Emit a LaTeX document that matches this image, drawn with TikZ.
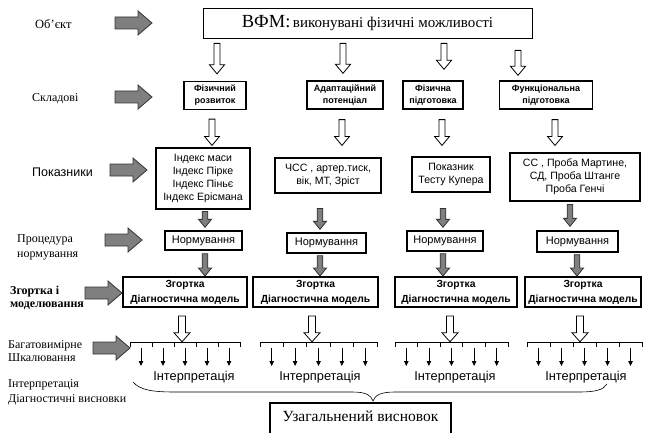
\documentclass[tikz,border=0pt]{standalone}
\usepackage{fontspec}
\setmainfont{Liberation Serif}
\newfontfamily\arial{Liberation Sans}
\usetikzlibrary{arrows.meta,calc}
\definecolor{arrgray}{HTML}{7F7F7F}
\definecolor{arredge}{HTML}{333333}
\newcommand\vconn[9]{%
  \draw[#1] let \p1=(#2.south), \p2=(#3.north) in
   ({#4pt-#7pt},{\y1-#5pt}) -- ({#4pt+#7pt},{\y1-#5pt}) --
   ({#4pt+#7pt},{\y2+#6pt+#9pt}) -- ({#4pt+#8pt},{\y2+#6pt+#9pt}) --
   ({#4pt},{\y2+#6pt}) -- ({#4pt-#8pt},{\y2+#6pt+#9pt}) --
   ({#4pt-#7pt},{\y2+#6pt+#9pt}) -- cycle;}
\newcommand\hconn[5]{\vconn{hollow}{#1}{#2}{#3}{#4}{#5}{3}{7.5}{9}}
\newcommand\gconn[5]{\vconn{grayarr}{#1}{#2}{#3}{#4}{#5}{2.8}{6.5}{8}}
\newcommand\bconn[5]{\vconn{hollow}{#1}{#2}{#3}{#4}{#5}{3.5}{8}{9}}
\begin{document}
\begin{tikzpicture}[x=1pt,y=-1pt,font=\arial,
  box/.style={draw,line width=1.1pt,inner sep=0pt,align=center},
  sbox/.style={box,line width=1.3pt,font=\arial\bfseries\fontsize{9}{12}\selectfont,minimum height=28pt},
  ibox/.style={box,font=\arial\fontsize{10.6}{13}\selectfont},
  nbox/.style={box,line width=1.3pt,font=\arial\fontsize{11}{12}\selectfont},
  zbox/.style={box,line width=1.9pt,font=\arial\bfseries\fontsize{10.3}{15}\selectfont,minimum height=30pt},
  lbl/.style={anchor=west,align=left,inner sep=0pt,font=\rmfamily\fontsize{12}{15}\selectfont},
  hollow/.style={draw=black,fill=white,line width=0.8pt},
  grayarr/.style={draw=arredge,fill=arrgray,line width=0.8pt},
  interp/.style={font=\arial\fontsize{12.8}{14}\selectfont,inner sep=0pt},
  leftarr/.pic={\path[grayarr] (0,-6)--(23,-6)--(23,-12)--(37,0)--(23,12)--(23,6)--(0,6)--cycle;}
]
\clip (0,0) rectangle (645,433);
\fill[white] (0,0) rectangle (645,433);

% left labels
\node[lbl,font=\rmfamily\fontsize{12.5}{15}\selectfont] (l1) at (35,24) {Об’єкт};
\node[lbl] (l2) at (32,99) {Складові};
\node[lbl,font=\arial\fontsize{12.5}{15}\selectfont] (l3) at (32,172) {Показники};
\node[lbl] (l4) at (17,247) {Процедура\\нормування};
\node[lbl,font=\rmfamily\bfseries\fontsize{12}{13.5}\selectfont] (l5) at (10,298) {Згортка і\\моделювання};
\node[lbl,font=\rmfamily\fontsize{12}{13.5}\selectfont] (l6) at (8,351) {Багатовимірне\\Шкалювання};
\node[lbl] (l7) at (8,392) {Інтерпретація\\Діагностичні висновки};

% left block arrows
\pic at (115,23) {leftarr};
\pic at (115,97) {leftarr};
\pic at (110,170) {leftarr};
\pic at (105,240) {leftarr};
\pic at (85,293) {leftarr};
\pic at (93,348) {leftarr};

% top
\node[box,line width=0.8pt,minimum width=329pt,minimum height=30pt] (top) at (367.5,23)
  {\rmfamily{\fontsize{18.5}{20}\selectfont ВФМ:}\ \fontsize{15}{18}\selectfont виконувані фізичні можливості};

% row 2
\node[sbox,minimum width=62pt] (r2a) at (215,95.5) {Фізичний\\розвиток};
\node[sbox,minimum width=76pt] (r2b) at (345,95) {Адаптаційний\\потенціал};
\node[sbox,minimum width=60pt] (r2c) at (433,95) {Фізична\\підготовка};
\node[sbox,minimum width=93pt] (r2d) at (546,95) {Функціональна\\підготовка};

% row 3
\node[ibox,minimum width=94pt,minimum height=61pt] (r3a) at (203,178.5) {Індекс маси\\Індекс Пірке\\Індекс Піньє\\Індекс Ерісмана};
\node[ibox,minimum width=106pt,minimum height=35pt] (r3b) at (328,175.5) {ЧСС , артер.тиск,\\вік, МТ, Зріст};
\node[ibox,minimum width=78pt,minimum height=35pt] (r3c) at (451,174.5) {Показник\\Тесту Купера};
\node[ibox,minimum width=130pt,minimum height=48pt] (r3d) at (575,177) {СС , Проба Мартине,\\СД, Проба Штанге\\Проба Генчі};

% normuvannia
\node[nbox,minimum width=77pt,minimum height=19pt] (n1) at (203.5,240.5) {Нормування};
\node[nbox,minimum width=79pt,minimum height=20pt] (n2) at (326.5,243) {Нормування};
\node[nbox,minimum width=76pt,minimum height=20pt] (n3) at (445,241) {Нормування};
\node[nbox,minimum width=81pt,minimum height=21pt] (n4) at (577.5,241.5) {Нормування};

% zgortka
\node[zbox,minimum width=124pt] (z1) at (185,292) {Згортка\\Діагностична модель};
\node[zbox,minimum width=125pt] (z2) at (315.5,292) {Згортка\\Діагностична модель};
\node[zbox,minimum width=122pt] (z3) at (456,292) {Згортка\\Діагностична модель};
\node[zbox,minimum width=116pt] (z4) at (583,292) {Згортка\\Діагностична модель};

% scales
\foreach \a/\b/\n in {130/240/1,260/377/2,395/508/3,527/642/4}{
  \node[inner sep=0pt,minimum size=0pt] (s\n) at ({(\a+\b)/2},342) {};
  \draw[line width=0.9pt] (\a,342) -- (\b,342);
  \foreach \k in {0,...,5} \draw[line width=0.9pt] ({\a+\k*(\b-\a)/5},342) -- ++(0,5);
  \foreach \k in {0,...,4} \draw[line width=0.8pt,-{Triangle[length=5pt,width=4.5pt]}] ({\a+(\k+0.5)*(\b-\a)/5},348) -- ++(0,18);
}
\node[interp] (i1) at (194,377) {Інтерпретація};
\node[interp] (i2) at (320,377) {Інтерпретація};
\node[interp] (i3) at (455,377) {Інтерпретація};
\node[interp] (i4) at (586,377) {Інтерпретація};

% connectors
\hconn{top}{r2a}{217}{5}{7}
\hconn{top}{r2b}{343}{5}{7}
\hconn{top}{r2c}{444}{5}{11}
\hconn{top}{r2d}{518}{12}{5}
\hconn{r2a}{r3a}{212}{9}{2}
\hconn{r2b}{r3b}{342}{10}{12}
\hconn{r2c}{r3c}{442}{10}{11}
\hconn{r2d}{r3d}{555}{10}{7}
\gconn{r3a}{n1}{205}{2}{3}
\gconn{r3b}{n2}{320}{15}{3}
\gconn{r3c}{n3}{443}{16}{3}
\gconn{r3d}{n4}{570}{3}{4}
\gconn{n1}{z1}{205}{3}{0}
\gconn{n2}{z2}{320}{2}{0}
\gconn{n3}{z3}{443}{2}{0}
\gconn{n4}{z4}{577}{2}{0}
\bconn{z1}{s1}{182}{8}{0}
\bconn{z2}{s2}{312}{8}{0}
\bconn{z3}{s3}{450}{8}{0}
\bconn{z4}{s4}{580}{8}{0}

% brace
\coordinate (bl) at (133,382);
\coordinate (br) at (607,384);
\coordinate (bt) at (373,401);
\draw[line width=0.6pt] (bl) .. controls (140,390) and (152,392) .. (175,392) -- (352,392)
  .. controls (366,392) and (371,395) .. (bt) .. controls (375,395) and (381,392) .. (395,392)
  -- (578,392) .. controls (596,392) and (603,390) .. (br);

% bottom box
\node[inner sep=0pt,minimum width=181pt,minimum height=26pt,font=\rmfamily\fontsize{15.5}{18}\selectfont] (res) at (360.5,416) {Узагальнений висновок};
\draw[line width=1.9pt] ([yshift=-30pt]res.south west) -- (res.north west) -- (res.north east) -- ([yshift=-30pt]res.south east);
\end{tikzpicture}
\end{document}
